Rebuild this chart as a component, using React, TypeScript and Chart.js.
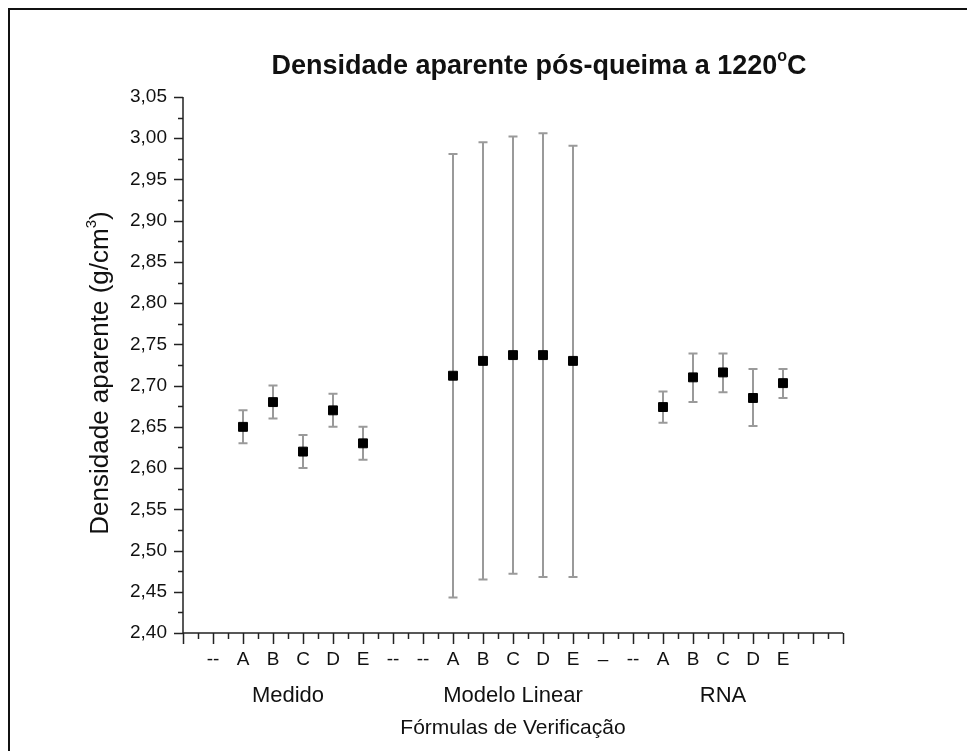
import React, { useEffect, useRef } from "react";
import { Chart, registerables } from "chart.js";

Chart.register(...registerables);

// ---------- data ----------
const xTickLabels = ["", "--", "A", "B", "C", "D", "E", "--", "--", "A", "B", "C", "D", "E", "–", "--", "A", "B", "C", "D", "E", "", ""];
const groupLabels = ["Medido", "Modelo Linear", "RNA"];
const groupCenters = [3.5, 11, 18];

const medidoX = [2, 3, 4, 5, 6];
const medidoY = [2.65, 2.68, 2.62, 2.67, 2.63];
const medidoHigh = [2.67, 2.70, 2.64, 2.69, 2.65];
const medidoLow = [2.63, 2.66, 2.60, 2.65, 2.61];

const linearX = [9, 10, 11, 12, 13];
const linearY = [2.712, 2.730, 2.737, 2.737, 2.730];
const linearHigh = [2.981, 2.995, 3.002, 3.006, 2.991];
const linearLow = [2.443, 2.465, 2.472, 2.468, 2.468];

const rnaX = [16, 17, 18, 19, 20];
const rnaY = [2.674, 2.710, 2.716, 2.685, 2.703];
const rnaHigh = [2.693, 2.739, 2.739, 2.720, 2.720];
const rnaLow = [2.655, 2.680, 2.692, 2.651, 2.685];

const yMin = 2.4;
const yMax = 3.05;
const yStep = 0.05;
const xMin = 0;
const xMax = 22;

const titleMain = "Densidade aparente pós-queima a 1220";
const titleSup = "o";
const titleEnd = "C";
const yTitleMain = "Densidade aparente (g/cm";
const yTitleSup = "3";
const yTitleEnd = ")";
const xTitle = "Fórmulas de Verificação";

const FONT = "'Liberation Sans', Arial, sans-serif";

const series = [
  { x: medidoX, y: medidoY, hi: medidoHigh, lo: medidoLow },
  { x: linearX, y: linearY, hi: linearHigh, lo: linearLow },
  { x: rnaX, y: rnaY, hi: rnaHigh, lo: rnaLow },
];

const errorBarPlugin = {
  id: "errorBars",
  beforeDatasetsDraw(chart: any) {
    const ctx = chart.ctx;
    const xs = chart.scales.x;
    const ys = chart.scales.y;
    ctx.save();
    ctx.strokeStyle = "#9a9a9a";
    ctx.lineWidth = 2;
    series.forEach((s) => {
      s.x.forEach((xv, i) => {
        const px = xs.getPixelForValue(xv);
        const pHi = ys.getPixelForValue(s.hi[i]);
        const pLo = ys.getPixelForValue(s.lo[i]);
        ctx.beginPath();
        ctx.moveTo(px, pHi);
        ctx.lineTo(px, pLo);
        ctx.moveTo(px - 4.5, pHi);
        ctx.lineTo(px + 4.5, pHi);
        ctx.moveTo(px - 4.5, pLo);
        ctx.lineTo(px + 4.5, pLo);
        ctx.stroke();
      });
    });
    ctx.restore();
  },
};

const decorPlugin = {
  id: "decor",
  afterDraw(chart: any) {
    const ctx = chart.ctx;
    const xs = chart.scales.x;
    const ys = chart.scales.y;
    const area = chart.chartArea;
    ctx.save();

    // frame
    ctx.strokeStyle = "#111";
    ctx.lineWidth = 2;
    ctx.beginPath();
    ctx.moveTo(9, 760);
    ctx.lineTo(9, 9);
    ctx.lineTo(980, 9);
    ctx.stroke();

    // axes lines
    ctx.strokeStyle = "#222";
    ctx.lineWidth = 1.5;
    ctx.beginPath();
    ctx.moveTo(area.left, area.top);
    ctx.lineTo(area.left, area.bottom);
    ctx.lineTo(area.right, area.bottom);
    ctx.stroke();

    // y ticks
    ctx.lineWidth = 1.5;
    ctx.beginPath();
    const nY = Math.round((yMax - yMin) / (yStep / 2));
    for (let k = 0; k <= nY; k++) {
      const v = yMin + (k * yStep) / 2;
      const py = Math.round(ys.getPixelForValue(v)) + 0.5;
      const len = k % 2 === 0 ? 9 : 5;
      ctx.moveTo(area.left - len, py);
      ctx.lineTo(area.left, py);
    }
    // x ticks
    for (let k = 0; k <= (xMax - xMin) * 2; k++) {
      const v = xMin + k / 2;
      const px = Math.round(xs.getPixelForValue(v)) + 0.5;
      const len = k % 2 === 0 ? 11 : 6;
      ctx.moveTo(px, area.bottom);
      ctx.lineTo(px, area.bottom + len);
    }
    ctx.stroke();

    // group labels
    ctx.fillStyle = "#111";
    ctx.font = `22px ${FONT}`;
    ctx.textAlign = "center";
    ctx.textBaseline = "alphabetic";
    groupLabels.forEach((g, i) => {
      ctx.fillText(g, xs.getPixelForValue(groupCenters[i]), 702);
    });
    // x title
    ctx.font = `21px ${FONT}`;
    ctx.fillText(xTitle, xs.getPixelForValue(11), 734);

    // chart title with superscript
    ctx.font = `bold 27px ${FONT}`;
    const w1 = ctx.measureText(titleMain).width;
    const w3 = ctx.measureText(titleEnd).width;
    ctx.font = `bold 16px ${FONT}`;
    const w2 = ctx.measureText(titleSup).width;
    const total = w1 + w2 + w3;
    let tx = 539 - total / 2;
    const ty = 74;
    ctx.textAlign = "left";
    ctx.font = `bold 27px ${FONT}`;
    ctx.fillText(titleMain, tx, ty);
    tx += w1;
    ctx.font = `bold 16px ${FONT}`;
    ctx.fillText(titleSup, tx, ty - 13);
    tx += w2;
    ctx.font = `bold 27px ${FONT}`;
    ctx.fillText(titleEnd, tx, ty);

    // y title rotated
    ctx.save();
    ctx.translate(108, ys.getPixelForValue(2.725) + 8);
    ctx.rotate(-Math.PI / 2);
    ctx.font = `26px ${FONT}`;
    const a1 = ctx.measureText(yTitleMain).width;
    const a3 = ctx.measureText(yTitleEnd).width;
    ctx.font = `15px ${FONT}`;
    const a2 = ctx.measureText(yTitleSup).width;
    let ax = -(a1 + a2 + a3) / 2;
    ctx.font = `26px ${FONT}`;
    ctx.fillText(yTitleMain, ax, 0);
    ax += a1;
    ctx.font = `15px ${FONT}`;
    ctx.fillText(yTitleSup, ax, -12);
    ax += a2;
    ctx.font = `26px ${FONT}`;
    ctx.fillText(yTitleEnd, ax, 0);
    ctx.restore();

    ctx.restore();
  },
};

export default function App() {
  const ref = useRef<HTMLCanvasElement | null>(null);

  useEffect(() => {
    if (!ref.current) return;
    const mk = (xs: number[], ys: number[]) => xs.map((x, i) => ({ x, y: ys[i] }));
    const pointStyle = {
      pointStyle: "rect" as const,
      pointRadius: 6.3,
      pointBackgroundColor: "#000",
      pointBorderColor: "#000",
      pointBorderWidth: 1,
      showLine: false,
    };
    const chart = new Chart(ref.current, {
      type: "scatter",
      data: {
        datasets: [
          { label: groupLabels[0], data: mk(medidoX, medidoY), ...pointStyle },
          { label: groupLabels[1], data: mk(linearX, linearY), ...pointStyle },
          { label: groupLabels[2], data: mk(rnaX, rnaY), ...pointStyle },
        ],
      },
      options: {
        responsive: false,
        animation: false,
        devicePixelRatio: 1,
        layout: { padding: { left: 0, top: 97, right: 124, bottom: 0 } },
        plugins: { legend: { display: false }, tooltip: { enabled: false }, title: { display: false } },
        scales: {
          x: {
            type: "linear",
            min: xMin,
            max: xMax,
            afterFit: (s: any) => {
              s.height = 118;
            },
            afterBuildTicks: (s: any) => {
              const t = [];
              for (let v = xMin; v <= xMax; v++) t.push({ value: v });
              s.ticks = t;
            },
            ticks: {
              autoSkip: false,
              maxRotation: 0,
              minRotation: 0,
              padding: 15,
              color: "#111",
              font: { family: FONT, size: 19 },
              callback: (v: any) => xTickLabels[Math.round(Number(v))] ?? "",
            },
            grid: { display: false, drawTicks: false },
            border: { display: false },
          },
          y: {
            type: "linear",
            min: yMin,
            max: yMax,
            afterFit: (s: any) => {
              s.width = 183;
            },
            afterBuildTicks: (s: any) => {
              const t = [];
              const n = Math.round((yMax - yMin) / yStep);
              for (let k = 0; k <= n; k++) t.push({ value: +(yMin + k * yStep).toFixed(3) });
              s.ticks = t;
            },
            ticks: {
              padding: 16,
              color: "#111",
              font: { family: FONT, size: 19 },
              callback: (v: any) => Number(v).toFixed(2).replace(".", ","),
            },
            grid: { display: false, drawTicks: false },
            border: { display: false },
          },
        },
      },
      plugins: [errorBarPlugin, decorPlugin],
    });
    return () => chart.destroy();
  }, []);

  return (
    <div style={{ position: "absolute", left: 0, top: 0, width: 967, height: 751, background: "#fff" }}>
      <canvas ref={ref} width={967} height={751} style={{ display: "block" }} />
    </div>
  );
}
